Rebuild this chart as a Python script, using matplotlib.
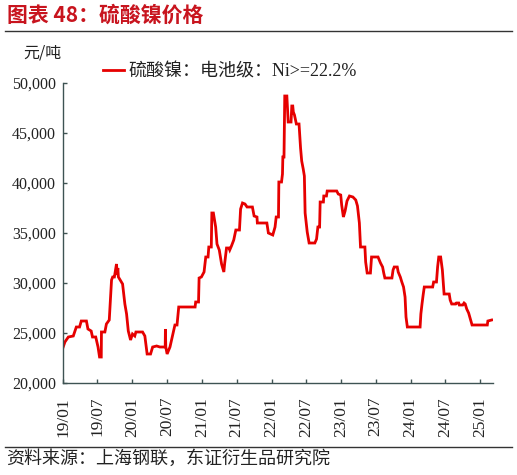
import matplotlib
matplotlib.use("Agg")
import matplotlib.pyplot as plt
import matplotlib.dates as mdates
import pandas as pd

title = "图表 48：硫酸镍价格"
unit = "元/吨"
series_name = "硫酸镍：电池级：Ni>=22.2%"
source = "资料来源：上海钢联，东证衍生品研究院"

dates = [
    "2019-01-02", "2019-01-11", "2019-01-29", "2019-02-24", "2019-03-03", "2019-03-12",
    "2019-03-29", "2019-04-07", "2019-05-04", "2019-05-12", "2019-05-29", "2019-06-05",
    "2019-06-22", "2019-07-04", "2019-07-12", "2019-07-21", "2019-07-22", "2019-08-09",
    "2019-08-17", "2019-09-01", "2019-09-13", "2019-09-19", "2019-09-28", "2019-10-09",
    "2019-10-13", "2019-10-16", "2019-10-19", "2019-11-10", "2019-11-22", "2019-12-01",
    "2019-12-10", "2019-12-22", "2020-01-01", "2020-01-13", "2020-01-19", "2020-02-23",
    "2020-03-06", "2020-03-18", "2020-04-05", "2020-04-16", "2020-05-07", "2020-05-24",
    "2020-06-21", "2020-06-22", "2020-06-24", "2020-07-01", "2020-07-16", "2020-07-29",
    "2020-08-11", "2020-08-22", "2020-08-31", "2020-11-25", "2020-11-28", "2020-12-13",
    "2020-12-16", "2020-12-28", "2021-01-11", "2021-01-20", "2021-02-01", "2021-02-05",
    "2021-02-18", "2021-02-21", "2021-03-01", "2021-03-13", "2021-03-20", "2021-04-01",
    "2021-04-13", "2021-04-25", "2021-04-29", "2021-05-09", "2021-05-22", "2021-05-26",
    "2021-06-04", "2021-06-16", "2021-06-27", "2021-07-16", "2021-07-22", "2021-08-01",
    "2021-08-14", "2021-08-25", "2021-09-22", "2021-10-01", "2021-10-16", "2021-10-18",
    "2021-12-07", "2021-12-15", "2022-01-07", "2022-01-19", "2022-01-25", "2022-02-06",
    "2022-02-08", "2022-02-22", "2022-02-27", "2022-03-01", "2022-03-07", "2022-03-11",
    "2022-03-22", "2022-03-29", "2022-04-13", "2022-04-17", "2022-04-22", "2022-04-25",
    "2022-05-01", "2022-05-11", "2022-05-25", "2022-06-02", "2022-06-08", "2022-06-16",
    "2022-06-22", "2022-06-26", "2022-07-07", "2022-07-17", "2022-08-16", "2022-08-25",
    "2022-09-01", "2022-09-10", "2022-09-13", "2022-09-30", "2022-10-02", "2022-10-16",
    "2022-10-20", "2022-12-09", "2022-12-17", "2022-12-30", "2023-01-04", "2023-01-13",
    "2023-01-22", "2023-02-01", "2023-02-14", "2023-03-04", "2023-03-19", "2023-03-28",
    "2023-04-07", "2023-04-13", "2023-05-06", "2023-05-10", "2023-05-18", "2023-06-04",
    "2023-06-10", "2023-07-14", "2023-07-27", "2023-08-07", "2023-08-13", "2023-08-19",
    "2023-09-25", "2023-10-01", "2023-10-07", "2023-10-23", "2023-10-28", "2023-11-08",
    "2023-11-16", "2023-11-25", "2023-12-03", "2023-12-08", "2023-12-15", "2024-02-20",
    "2024-02-24", "2024-03-01", "2024-03-07", "2024-03-13", "2024-04-26", "2024-05-01",
    "2024-05-16", "2024-05-22", "2024-05-28", "2024-06-07", "2024-06-16", "2024-06-25",
    "2024-07-22", "2024-07-27", "2024-08-04", "2024-08-25", "2024-08-29", "2024-09-10",
    "2024-09-13", "2024-10-01", "2024-10-08", "2024-10-14", "2024-10-22", "2024-11-01",
    "2024-11-10", "2024-11-19", "2025-02-07", "2025-02-10", "2025-03-02",
]
values = [
    23600, 24100, 24600, 24700, 25100, 25600,
    25600, 26200, 26200, 25400, 25200, 24600,
    24600, 23600, 22600, 22600, 25100, 25100,
    25900, 26300, 30300, 30600, 30600, 31900,
    30800, 31500, 30600, 29900, 27900, 26900,
    25200, 24300, 24900, 24700, 25100, 25100,
    24700, 22900, 22900, 23600, 23700, 23600,
    23600, 25400, 23600, 22900, 23600, 24700,
    25800, 25800, 27600, 27600, 28100, 28100,
    30500, 30600, 31100, 32600, 32600, 33600,
    33600, 37000, 37000, 35600, 33900, 33300,
    31900, 31100, 31900, 33500, 33500, 33300,
    33700, 34300, 35300, 35300, 37400, 38000,
    37900, 37600, 37600, 36700, 36600, 36000,
    36000, 35000, 34800, 35600, 36600, 36600,
    40100, 40100, 40900, 42600, 42600, 48700,
    48700, 46100, 46100, 47700, 47700, 47100,
    46800, 45900, 45900, 43500, 42200, 41400,
    40700, 37000, 35100, 34000, 34000, 34400,
    35600, 35600, 38100, 38100, 38700, 38700,
    39200, 39200, 38900, 38800, 37800, 36600,
    37200, 38200, 38700, 38600, 38300, 37700,
    36000, 33600, 33600, 32100, 31000, 31000,
    32600, 32600, 32000, 31600, 31000, 30500,
    30500, 31300, 31600, 31600, 31100, 30600,
    30100, 29600, 28600, 26600, 25600, 25600,
    26900, 27900, 28800, 29600, 29600, 30100,
    30100, 31600, 32600, 32600, 31300, 28900,
    28900, 28300, 27900, 27900, 28000, 28000,
    27800, 27800, 28000, 27900, 27400, 27000,
    26400, 25800, 25800, 26200, 26300,
]
x_ticks = ["2019-01-01", "2019-07-01", "2020-01-01", "2020-07-01", "2021-01-01",
           "2021-07-01", "2022-01-01", "2022-07-01", "2023-01-01", "2023-07-01",
           "2024-01-01", "2024-07-01", "2025-01-01"]
y_ticks = [20000, 25000, 30000, 35000, 40000, 45000, 50000]

CJK = ["Noto Sans CJK SC", "DejaVu Sans"]
SERIF_MIX = ["Liberation Serif", "Noto Sans CJK SC"]
RED = "#E60000"
SPINE = "#3E5353"

fig = plt.figure(figsize=(5.17, 4.75), dpi=100)
ax = fig.add_axes([63 / 517, 1 - 383 / 475, 430 / 517, 300 / 475])

d = pd.to_datetime(dates)
ax.plot(d, values, color=RED, lw=2.0, label=series_name, solid_joinstyle="miter")

ax.set_ylim(20000, 50000)
ax.set_yticks(y_ticks)
ax.set_yticklabels([f"{v:,}" for v in y_ticks], family="Liberation Serif", fontsize=11.5)
ax.set_xlim(pd.Timestamp("2019-01-01"), pd.Timestamp("2025-03-09"))
ax.set_xticks(pd.to_datetime(x_ticks))
ax.xaxis.set_major_formatter(mdates.DateFormatter("%y/%m"))
for lab in ax.get_xticklabels():
    lab.set_rotation(90)
    lab.set_family("Liberation Serif")
    lab.set_fontsize(12.5)

for s in ["top", "right"]:
    ax.spines[s].set_visible(False)
for s in ["left", "bottom"]:
    ax.spines[s].set_color(SPINE)
    ax.spines[s].set_linewidth(1.0)
ax.tick_params(axis="both", direction="in", length=3, width=1, color=SPINE, colors="#222222")
ax.tick_params(axis="y", pad=5)
ax.tick_params(axis="x", pad=10)

leg = ax.legend(loc="center left", bbox_to_anchor=(103 / 517, 1 - 72 / 475),
                bbox_transform=fig.transFigure, frameon=False, borderpad=0,
                borderaxespad=0, handlelength=1.15, handletextpad=0.25,
                prop={"family": SERIF_MIX, "size": 13})
for t in leg.get_texts():
    t.set_color("#222222")

fig.text(7 / 517, 1 - 15 / 475, title, family=CJK, fontsize=15, fontweight="bold",
         color="#C8141E", ha="left", va="center")
fig.add_artist(plt.Line2D([5 / 517, 512 / 517], [1 - 31 / 475] * 2, color="#333333", lw=1.0))
fig.text(42 / 517, 1 - 53 / 475, unit, family=CJK, fontsize=11.5, color="#222222",
         ha="center", va="center")
fig.add_artist(plt.Line2D([5 / 517, 512 / 517], [1 - 447 / 475] * 2, color="#333333", lw=1.0))
fig.text(6 / 517, 1 - 459 / 475, source, family=CJK, fontsize=13, color="#222222",
         ha="left", va="center")

fig.savefig("out.png", dpi=100)
